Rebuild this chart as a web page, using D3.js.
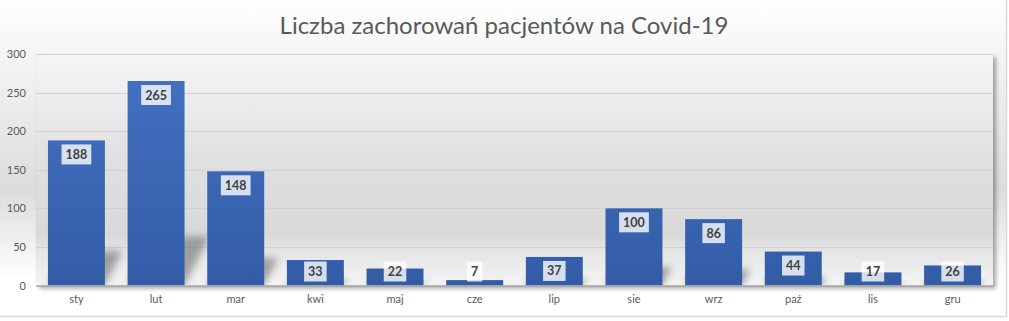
<!DOCTYPE html>
<html lang="pl">
<head>
<meta charset="UTF-8">
<title>Liczba zachorowań pacjentów na Covid-19</title>
<style>
  html, body { margin: 0; padding: 0; background: #fff; }
  svg { display: block; font-family: Lato, "Open Sans", sans-serif; }
  .tick text { fill: #595959; }
</style>
</head>
<body>
<div id="chart"></div>
<script src="https://cdnjs.cloudflare.com/ajax/libs/d3/7.8.5/d3.min.js"></script>
<script>
  // dane
  var months = ["sty", "lut", "mar", "kwi", "maj", "cze", "lip", "sie", "wrz", "paź", "lis", "gru"];
  var cases = [188, 265, 148, 33, 22, 7, 37, 100, 86, 44, 17, 26];
  var yTicks = [0, 50, 100, 150, 200, 250, 300];
  var title = "Liczba zachorowań pacjentów na Covid-19";

  var W = 1009, H = 321;
  var plot = { left: 36, right: 993, top: 54, bottom: 285.5 };

  var svg = d3.select("#chart").append("svg")
    .attr("width", W).attr("height", H);

  var defs = svg.append("defs");

  // tło całego wykresu
  var bg = defs.append("linearGradient").attr("id", "bgGrad")
    .attr("x1", 0).attr("y1", 0).attr("x2", 0).attr("y2", 1);
  bg.append("stop").attr("offset", "0%").attr("stop-color", "#ffffff");
  bg.append("stop").attr("offset", "60%").attr("stop-color", "#dcdcdc");
  bg.append("stop").attr("offset", "88%").attr("stop-color", "#ffffff");
  bg.append("stop").attr("offset", "100%").attr("stop-color", "#ffffff");

  // tło obszaru kreślenia
  var pg = defs.append("linearGradient").attr("id", "plotGrad")
    .attr("x1", 0).attr("y1", 0).attr("x2", 0).attr("y2", 1);
  pg.append("stop").attr("offset", "0%").attr("stop-color", "#f6f6f6");
  pg.append("stop").attr("offset", "45%").attr("stop-color", "#e0e0e0");
  pg.append("stop").attr("offset", "78%").attr("stop-color", "#d9d9d9");
  pg.append("stop").attr("offset", "86%").attr("stop-color", "#e6e6e6");
  pg.append("stop").attr("offset", "100%").attr("stop-color", "#f3f3f3");

  var barGrad = defs.append("linearGradient").attr("id", "barGrad")
    .attr("gradientUnits", "userSpaceOnUse")
    .attr("x1", 0).attr("y1", plot.top).attr("x2", 0).attr("y2", plot.bottom);
  barGrad.append("stop").attr("offset", "0%").attr("stop-color", "#4472c4");
  barGrad.append("stop").attr("offset", "100%").attr("stop-color", "#325ca6");

  defs.append("filter").attr("id", "plotShadow")
    .attr("x", "-5%").attr("y", "-5%").attr("width", "110%").attr("height", "115%")
    .append("feDropShadow").attr("dx", 3).attr("dy", 3)
    .attr("stdDeviation", 2).attr("flood-color", "#000").attr("flood-opacity", 0.35);

  defs.append("filter").attr("id", "barShadow")
    .attr("x", "-50%").attr("y", "-50%").attr("width", "200%").attr("height", "200%")
    .append("feGaussianBlur").attr("stdDeviation", 3.5);

  defs.append("clipPath").attr("id", "plotClip")
    .append("rect")
    .attr("x", plot.left).attr("y", plot.top)
    .attr("width", plot.right - plot.left).attr("height", plot.bottom - plot.top);

  // ramka wykresu
  svg.append("rect")
    .attr("x", -1).attr("y", -1).attr("width", 1007.5).attr("height", 317.5)
    .attr("fill", "url(#bgGrad)").attr("stroke", "#d9d9d9").attr("stroke-width", 1.5);

  svg.append("text")
    .attr("x", 504).attr("y", 34)
    .attr("text-anchor", "middle")
    .attr("font-size", 24)
    .attr("fill", "#595959")
    .text(title);

  var x = d3.scaleBand()
    .domain(months)
    .range([plot.left, plot.right])
    .paddingInner(0.285)
    .paddingOuter(0.15);

  var y = d3.scaleLinear()
    .domain([0, 300])
    .range([plot.bottom, plot.top]);

  svg.append("rect")
    .attr("x", plot.left).attr("y", plot.top)
    .attr("width", plot.right - plot.left).attr("height", plot.bottom - plot.top)
    .attr("fill", "url(#plotGrad)")
    .attr("filter", "url(#plotShadow)");

  // linie siatki
  svg.append("g").selectAll("line")
    .data(yTicks.filter(function (d) { return d > 0; }))
    .enter().append("line")
    .attr("x1", plot.left).attr("x2", plot.right)
    .attr("y1", function (d) { return Math.round(y(d)) + 0.5; })
    .attr("y2", function (d) { return Math.round(y(d)) + 0.5; })
    .attr("stroke", "#d2d2d2").attr("stroke-width", 1);

  // cienie słupków
  svg.append("g").attr("clip-path", "url(#plotClip)")
    .selectAll("path")
    .data(cases)
    .enter().append("path")
    .attr("filter", "url(#barShadow)")
    .attr("fill", "#6e6e6e").attr("opacity", 0.6)
    .attr("d", function (d, i) {
      var x0 = x(months[i]), x1 = x0 + x.bandwidth();
      var b = y(0), h = y(0) - y(d);
      var dx = 0.12 * h, dy = 0.24 * h;
      return "M" + x0 + "," + b + "L" + x1 + "," + b +
        "L" + (x1 + dx) + "," + (b - dy) + "L" + (x0 + dx) + "," + (b - dy) + "Z";
    });

  // słupki
  svg.append("g").selectAll("rect")
    .data(cases)
    .enter().append("rect")
    .attr("x", function (d, i) { return x(months[i]); })
    .attr("y", function (d) { return y(d); })
    .attr("width", x.bandwidth())
    .attr("height", function (d) { return y(0) - y(d); })
    .attr("fill", "url(#barGrad)");

  // oś X
  svg.append("line")
    .attr("x1", plot.left).attr("x2", plot.right)
    .attr("y1", plot.bottom + 0.5).attr("y2", plot.bottom + 0.5)
    .attr("stroke", "#a6a6a6").attr("stroke-width", 1.5);

  var xAxis = svg.append("g")
    .attr("transform", "translate(0," + plot.bottom + ")")
    .call(d3.axisBottom(x).tickSize(0).tickPadding(10));
  xAxis.select(".domain").remove();
  xAxis.selectAll("text").attr("font-size", 11).attr("font-family", "Lato, sans-serif");

  var yAxis = svg.append("g")
    .attr("transform", "translate(" + (plot.left - 10) + ",0)")
    .call(d3.axisLeft(y).tickValues(yTicks).tickSize(0).tickPadding(0));
  yAxis.select(".domain").remove();
  yAxis.selectAll("text").attr("font-size", 11).attr("font-family", "Lato, sans-serif");

  // etykiety danych
  var labels = svg.append("g").selectAll("g")
    .data(cases)
    .enter().append("g")
    .attr("transform", function (d, i) {
      var cx = x(months[i]) + x.bandwidth() / 2;
      var top = Math.min(y(d) + 4, y(0) - 24);
      return "translate(" + cx + "," + top + ")";
    });

  labels.append("rect")
    .attr("fill", "#ffffff").attr("fill-opacity", 0.8);

  labels.append("text")
    .attr("text-anchor", "middle")
    .attr("y", 14.5)
    .attr("font-size", 12.5)
    .attr("font-weight", "bold")
    .attr("fill", "#404040")
    .text(function (d) { return d; });

  labels.each(function () {
    var g = d3.select(this);
    var w = g.select("text").node().getComputedTextLength() + 8;
    g.select("rect").attr("x", -w / 2).attr("y", 0).attr("width", w).attr("height", 20);
  });
</script>
</body>
</html>
